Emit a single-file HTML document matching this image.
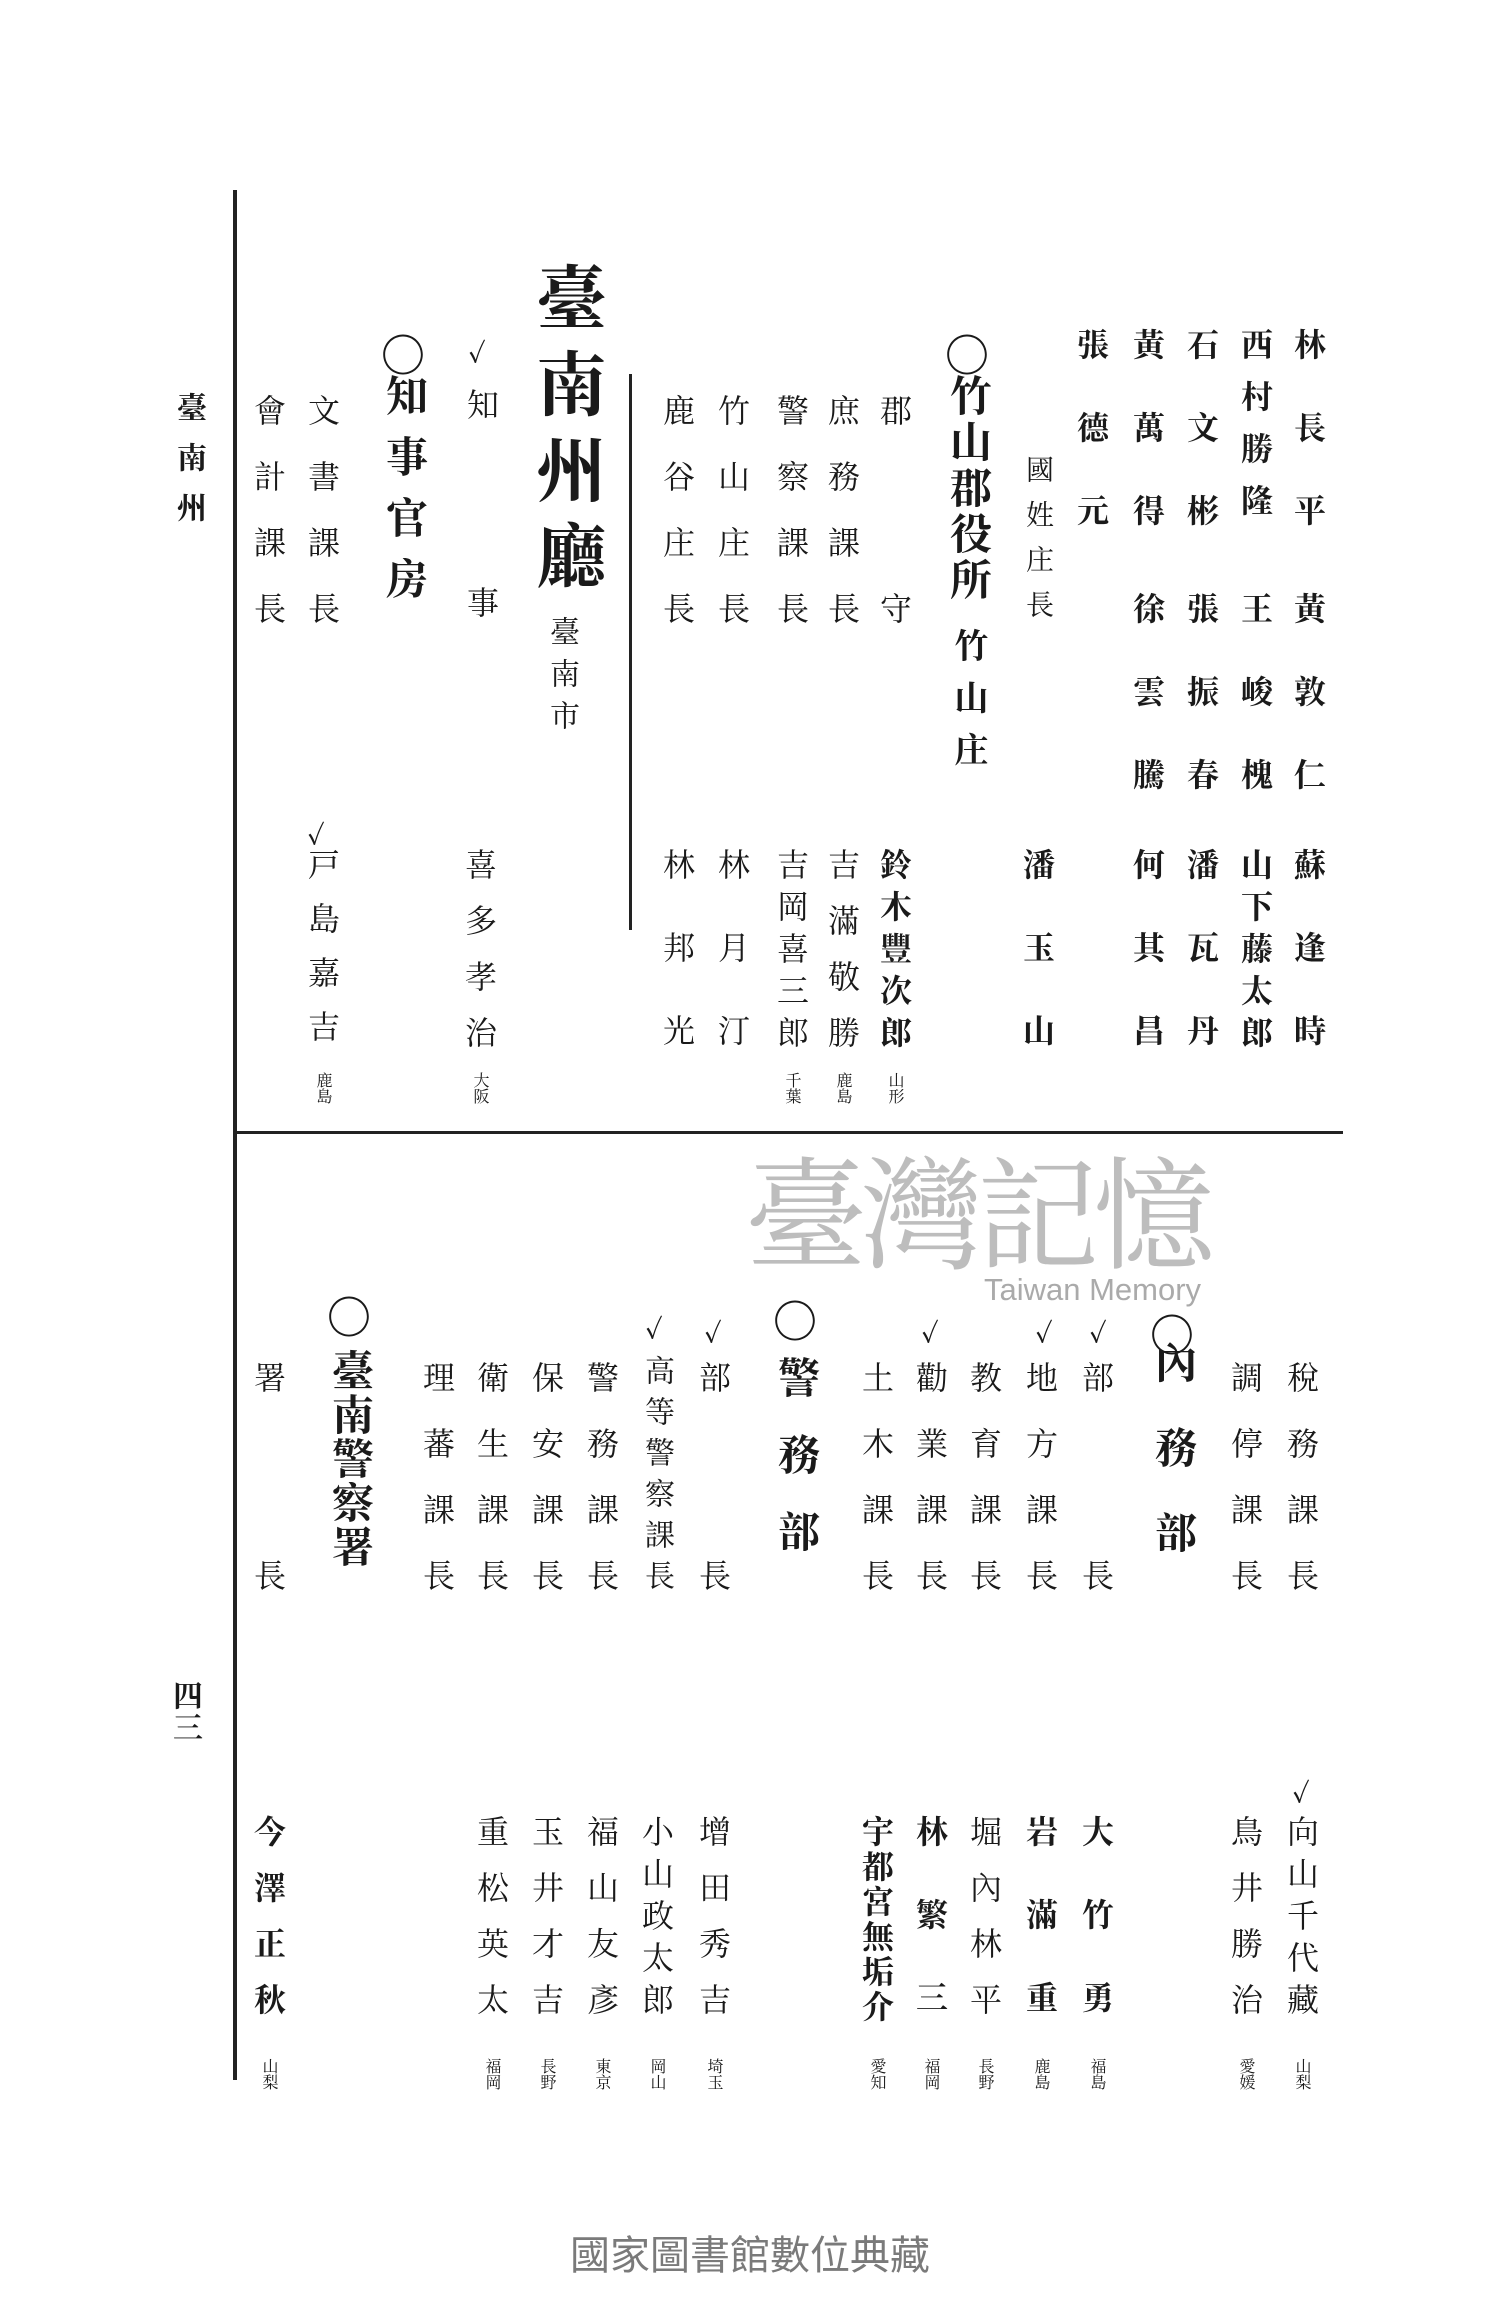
<!DOCTYPE html>
<html><head><meta charset="utf-8"><style>
html,body{margin:0;padding:0;background:#fff;}
body{width:1500px;height:2300px;position:relative;overflow:hidden;font-family:"Liberation Serif","Noto Serif CJK SC","Noto Sans CJK TC",serif;color:#1a1a1a;}
.c{position:absolute;writing-mode:vertical-rl;font-size:32px;line-height:1;transform:translateX(-50%);white-space:nowrap;font-weight:bold;}
.n{letter-spacing:51px;}
.l{letter-spacing:34px;font-weight:normal;}
.s{font-size:16px;letter-spacing:0;font-weight:normal;}
.ln{position:absolute;background:#222;}
.k{position:absolute;font-size:26px;line-height:1;transform:translateX(-50%);font-weight:bold;}
.o{position:absolute;font-size:44px;line-height:1;transform:translateX(-50%);font-weight:bold;font-family:"Noto Sans CJK SC",sans-serif;}
</style></head><body>
<div class="ln" style="left:233px;top:190px;width:4px;height:1890px"></div>
<div class="ln" style="left:233px;top:1131px;width:1110px;height:3px"></div>
<div class="ln" style="left:629px;top:374px;width:3px;height:556px"></div>

<div class="c" style="left:188px;top:392px;font-size:30px;letter-spacing:20px">臺南州</div>
<div class="c" style="left:184px;top:1680px;font-size:30px;letter-spacing:2px">四三</div>

<!-- top section -->
<div class="c n" style="left:1308px;top:328px">林長平</div>
<div class="c n" style="left:1308px;top:592px">黃敦仁</div>
<div class="c n" style="left:1308px;top:848px">蘇逢時</div>
<div class="c" style="left:1255px;top:328px;letter-spacing:20px">西村勝隆</div>
<div class="c n" style="left:1255px;top:592px">王峻槐</div>
<div class="c" style="left:1255px;top:848px;letter-spacing:10px">山下藤太郎</div>
<div class="c n" style="left:1201px;top:328px">石文彬</div>
<div class="c n" style="left:1201px;top:592px">張振春</div>
<div class="c n" style="left:1201px;top:848px">潘瓦丹</div>
<div class="c n" style="left:1147px;top:328px">黃萬得</div>
<div class="c n" style="left:1147px;top:592px">徐雲騰</div>
<div class="c n" style="left:1147px;top:848px">何其昌</div>
<div class="c n" style="left:1091px;top:328px">張德元</div>
<div class="c" style="left:1037px;top:455px;font-size:28px;letter-spacing:17px;font-weight:normal">國姓庄長</div>
<div class="c n" style="left:1037px;top:848px">潘玉山</div>
<div class="o" style="left:967px;top:330px">○</div>
<div class="c" style="left:967px;top:374px;font-size:42px;letter-spacing:4px">竹山郡役所</div>
<div class="c" style="left:967px;top:628px;font-size:34px;letter-spacing:18px">竹山庄</div>
<div class="c" style="left:894px;top:394px;letter-spacing:166px;font-weight:normal">郡守</div>
<div class="c" style="left:894px;top:848px;letter-spacing:10px">鈴木豐次郎</div>
<div class="c s" style="left:894px;top:1072px">山形</div>
<div class="c l" style="left:842px;top:394px">庶務課長</div>
<div class="c" style="left:842px;top:848px;letter-spacing:24px;font-weight:normal">吉滿敬勝</div>
<div class="c s" style="left:842px;top:1072px">鹿島</div>
<div class="c l" style="left:791px;top:394px">警察課長</div>
<div class="c" style="left:791px;top:848px;letter-spacing:10px;font-weight:normal">吉岡喜三郎</div>
<div class="c s" style="left:791px;top:1072px">千葉</div>
<div class="c l" style="left:732px;top:394px">竹山庄長</div>
<div class="c n" style="left:732px;top:848px;font-weight:normal">林月汀</div>
<div class="c l" style="left:677px;top:394px">鹿谷庄長</div>
<div class="c n" style="left:677px;top:848px;font-weight:normal">林邦光</div>
<div class="c" style="left:564px;top:262px;font-size:70px;letter-spacing:16px">臺南州廳</div>
<div class="c" style="left:561px;top:616px;font-size:30px;letter-spacing:12px;font-weight:normal">臺南市</div>
<div class="k" style="left:477px;top:342px">✓</div>
<div class="c" style="left:481px;top:388px;letter-spacing:166px;font-weight:normal">知事</div>
<div class="c" style="left:479px;top:848px;letter-spacing:24px;font-weight:normal">喜多孝治</div>
<div class="c s" style="left:479px;top:1072px">大阪</div>
<div class="o" style="left:403px;top:330px">○</div>
<div class="c" style="left:403px;top:374px;font-size:42px;letter-spacing:19px">知事官房</div>
<div class="c l" style="left:322px;top:394px">文書課長</div>
<div class="k" style="left:316px;top:824px">✓</div>
<div class="c" style="left:322px;top:848px;letter-spacing:22px;font-weight:normal">戸島嘉吉</div>
<div class="c s" style="left:322px;top:1072px">鹿島</div>
<div class="c l" style="left:268px;top:394px">會計課長</div>

<!-- watermark -->
<div style="position:absolute;left:745px;top:1146px;font-size:122px;color:#bdbdbd;font-family:'Noto Serif CJK SC',serif;letter-spacing:-6px;line-height:1">臺灣記憶</div>
<div style="position:absolute;left:984px;top:1272px;font-size:31px;color:#aaa;font-family:'Liberation Sans',sans-serif">Taiwan Memory</div>

<!-- bottom section -->
<div class="c l" style="left:1301px;top:1361px">稅務課長</div>
<div class="k" style="left:1301px;top:1782px">✓</div>
<div class="c" style="left:1301px;top:1815px;letter-spacing:10px;font-weight:normal">向山千代藏</div>
<div class="c s" style="left:1301px;top:2058px">山梨</div>
<div class="c l" style="left:1245px;top:1361px">調停課長</div>
<div class="c" style="left:1245px;top:1815px;letter-spacing:24px;font-weight:normal">鳥井勝治</div>
<div class="c s" style="left:1245px;top:2058px">愛媛</div>
<div class="o" style="left:1172px;top:1310px">○</div>
<div class="c" style="left:1172px;top:1341px;font-size:42px;letter-spacing:43px">內務部</div>
<div class="k" style="left:1098px;top:1322px">✓</div>
<div class="c" style="left:1096px;top:1361px;font-weight:normal">部</div>
<div class="c" style="left:1096px;top:1559px;font-weight:normal">長</div>
<div class="c n" style="left:1096px;top:1815px">大竹勇</div>
<div class="c s" style="left:1096px;top:2058px">福島</div>
<div class="k" style="left:1044px;top:1322px">✓</div>
<div class="c l" style="left:1040px;top:1361px">地方課長</div>
<div class="c n" style="left:1040px;top:1815px">岩滿重</div>
<div class="c s" style="left:1040px;top:2058px">鹿島</div>
<div class="c l" style="left:984px;top:1361px">教育課長</div>
<div class="c" style="left:984px;top:1815px;letter-spacing:24px;font-weight:normal">堀內林平</div>
<div class="c s" style="left:984px;top:2058px">長野</div>
<div class="k" style="left:930px;top:1322px">✓</div>
<div class="c l" style="left:930px;top:1361px">勸業課長</div>
<div class="c n" style="left:930px;top:1815px">林繁三</div>
<div class="c s" style="left:930px;top:2058px">福岡</div>
<div class="c l" style="left:876px;top:1361px">土木課長</div>
<div class="c" style="left:876px;top:1815px;letter-spacing:3px">宇都宮無垢介</div>
<div class="c s" style="left:876px;top:2058px">愛知</div>
<div class="o" style="left:795px;top:1296px">○</div>
<div class="c" style="left:795px;top:1356px;font-size:42px;letter-spacing:35px">警務部</div>
<div class="k" style="left:713px;top:1322px">✓</div>
<div class="c" style="left:713px;top:1361px;font-weight:normal">部</div>
<div class="c" style="left:713px;top:1559px;font-weight:normal">長</div>
<div class="c" style="left:713px;top:1815px;letter-spacing:24px;font-weight:normal">增田秀吉</div>
<div class="c s" style="left:713px;top:2058px">埼玉</div>
<div class="k" style="left:654px;top:1318px">✓</div>
<div class="c" style="left:656px;top:1355px;letter-spacing:11px;font-size:30px;font-weight:normal">高等警察課長</div>
<div class="c" style="left:656px;top:1815px;letter-spacing:10px;font-weight:normal">小山政太郎</div>
<div class="c s" style="left:656px;top:2058px">岡山</div>
<div class="c l" style="left:601px;top:1361px">警務課長</div>
<div class="c" style="left:601px;top:1815px;letter-spacing:24px;font-weight:normal">福山友彥</div>
<div class="c s" style="left:601px;top:2058px">東京</div>
<div class="c l" style="left:546px;top:1361px">保安課長</div>
<div class="c" style="left:546px;top:1815px;letter-spacing:24px;font-weight:normal">玉井才吉</div>
<div class="c s" style="left:546px;top:2058px">長野</div>
<div class="c l" style="left:491px;top:1361px">衛生課長</div>
<div class="c" style="left:491px;top:1815px;letter-spacing:24px;font-weight:normal">重松英太</div>
<div class="c s" style="left:491px;top:2058px">福岡</div>
<div class="c l" style="left:437px;top:1361px">理蕃課長</div>
<div class="o" style="left:349px;top:1292px">○</div>
<div class="c" style="left:349px;top:1349px;font-size:42px;letter-spacing:2px">臺南警察署</div>
<div class="c" style="left:268px;top:1361px;font-weight:normal">署</div>
<div class="c" style="left:268px;top:1559px;font-weight:normal">長</div>
<div class="c" style="left:268px;top:1815px;letter-spacing:24px">今澤正秋</div>
<div class="c s" style="left:268px;top:2058px">山梨</div>

<div style="position:absolute;left:0;width:1500px;top:2232px;text-align:center;font-size:40px;color:#7a7a7a;font-family:'Noto Sans CJK TC',sans-serif;line-height:1">國家圖書館數位典藏</div>
</body></html>
